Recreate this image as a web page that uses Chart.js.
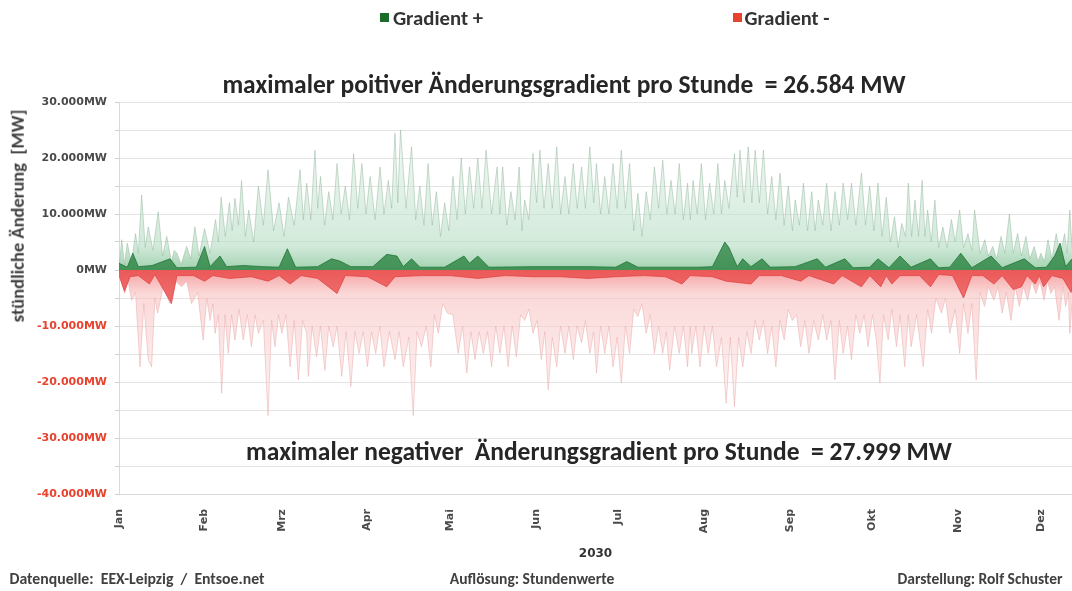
<!DOCTYPE html>
<html><head><meta charset="utf-8">
<script src="https://cdn.jsdelivr.net/npm/chart.js@4/dist/chart.umd.min.js"></script>
<style>
html,body{margin:0;padding:0;background:#fff;}
#wrap{position:relative;width:1072px;height:591px;overflow:hidden;font-family:Carlito,Lato,"Open Sans",sans-serif;}
canvas{position:absolute;left:0;top:0;}
.t{position:absolute;white-space:pre;font-weight:bold;color:#3a3a3a;line-height:1;transform:translate(-50%,-50%);}
.sq{position:absolute;width:9px;height:9px;}
</style></head>
<body><div id="wrap">
<canvas id="c" width="1072" height="591"></canvas>
<div class="sq" style="left:380px;top:13px;background:#1b6b2b"></div>
<div class="t" id="lg1" style="left:438px;top:18px;font-size:13px;color:#333">Gradient +</div>
<div class="sq" style="left:733px;top:13px;background:#e8432e"></div>
<div class="t" id="lg2" style="left:787px;top:18px;font-size:13px;color:#333">Gradient -</div>
<div class="t" id="t1" style="left:564px;top:85px;font-size:20px;color:#262626">maximaler poitiver Änderungsgradient pro Stunde  = 26.584 MW</div>
<div class="t" id="t2" style="left:599px;top:452px;font-size:20px;color:#262626">maximaler negativer  Änderungsgradient pro Stunde  = 27.999 MW</div>
<div class="t" id="yt" style="left:18px;top:216px;font-size:14px;color:#404040;transform:translate(-50%,-50%) rotate(-90deg)">stündliche Änderung  [MW]</div>
<div class="t" id="f1" style="left:137px;top:579px;font-size:11px;color:#404040">Datenquelle:  EEX-Leipzig  /  Entsoe.net</div>
<div class="t" id="f2" style="left:532px;top:579px;font-size:11px;color:#404040">Auflösung: Stundenwerte</div>
<div class="t" id="f3" style="left:980px;top:579px;font-size:11px;color:#404040">Darstellung: Rolf Schuster</div>
</div>
<script>
// ---- data (values in 1.000 MW, x = day of year 2030, 0 = 1 Jan) ----
const monthNames = ["Jan","Feb","Mrz","Apr","Mai","Jun","Jul","Aug","Sep","Okt","Nov","Dez"];
const monthStartDays = [0,31,59,90,120,151,181,212,243,273,304,334];
const yTicksLabelled = [30,20,10,0,-10,-20,-30,-40];

const posPeakDays = [0,1,2,3,4.5,6,7,8.2,9.5,10.6,12.3,14.2,15.8,17.3,19,20,21,22.5,24.5,26,27.5,29,31,33,35,36,37,38.5,40,41,42,43.3,44.4,45.8,47,48.8,50.5,52.3,54,56,58,59.8,61.4,63.5,65.6,66.8,68,69.5,71,72,73,74.5,76,77.5,79,80.5,82,83.5,85,86.5,88,89.5,91,92.8,94.6,96,97.6,98.8,100,101,102,104,106,107.5,109,110.5,112,113.5,115,116.5,118,119.5,121,122.5,124,125.5,127,128.5,130,131.5,133,135,137,138,139,140.5,142,143.5,145,146,147,148.5,150,151.3,152.5,154,155.5,157,158.6,160,161.6,163,164.6,166,167.6,169,170.6,172,173,174.5,176,177.5,179,180.5,182,183.5,185,186.5,188,189.5,191,192.5,194,195.5,197,198.5,200,201.5,203,204.5,206,207,208,209.5,211,212.5,214,215.5,217,218.3,219.5,221,223,224,225,226.5,228,229.3,230.5,232,233.5,235,236.5,238,239.5,241,242.5,244,245,246.5,248,249.5,251,252.2,253.4,255,256.4,258,259.4,261,262.4,264,265.4,267,269,270.5,272,273.5,275,276.5,278,279.5,281,282.3,283.6,285,286,287.2,288.4,289.7,291,292,293,294.3,295.6,297,298.5,300,301.6,303,304.6,306,307.6,309,310,312,313.7,315,316.6,318,319.6,321,322.6,324,325.6,327,328.6,330,331.6,333,334,335.3,336.6,338,339.6,341,342.6,343.5,344.5,345.3];
const posPeakVals = [0.5,5.4,1.0,4.8,1.2,6.5,3,13.4,4,7.7,3.5,10.4,2.5,6.0,1.5,3.5,3.0,1.0,4.2,2,7.7,2.5,7.4,3,9,5,13,6,12,7,12.8,8,16,6,10.7,5,15,8,17.9,7,12,6,13,8,17.9,9,15.5,9,21.4,11,16.7,8,14,9,19,10,15,9,20.8,11,19,10,16.7,9,18.4,10,16,11,24.4,12,25,11,22,9,15,8,19,8,14,6,12,7,16.7,9,20,10,18.4,11,20,11,21.4,10,18.4,10,18.4,8,14,9,18.4,7,12.5,9,20.8,12,21.4,11,19,11,22,10,16.7,10,19,11,18.4,11,22,12,19,10,16.7,10,19,11,21.4,11,19,7,13.7,6,14,9,18.4,11,19.6,10,16,10,19,9,15.5,9,16,10,19,9,15.5,10,19,10,16,11,20.8,13,21.4,12,22,12,21.4,12,21.4,10,16.7,9,17.3,8,15,7,12.5,8,15.5,7,14,7,12.5,8,15.5,7,14,8,15.5,9,15.5,8,17.3,8,15,7,15.5,6,13,5,9.5,4,8.3,6,15.5,6,12.5,6,16,6,10.7,5,12.5,4,7.7,4,9,5,10.7,4,6.5,3.5,10.7,3,5.4,2.5,4.2,2,6,3,10,3,6.5,2.5,6,2,4.2,1.5,3,1.5,5.4,2,6.5,2.5,6.5,3,10.7,4];

const negPeakDays = [0,2,3.3,4.6,6,7.6,9,10.6,11.8,13,14,16,18.5,20.5,22.7,24.5,26.3,28.5,30.5,31.8,33,34,34.8,36,37.2,38.4,39.6,40.8,42,43.5,45,46.5,48,49.3,50.5,52.3,54,55.3,56.5,57.8,59,60.5,62,63.5,65,66.5,68,68.6,70,71.6,73,74.6,76,77.6,79,80.7,82.3,84,85.5,87,88.5,90,91.5,93,94.5,96,98,100,101.5,103,105,106.6,108,109.6,111.3,113,114.3,115.7,117.3,119,121,122.9,124.5,126,127.5,129,130.5,132,133.5,135,136.5,138,139.5,141,142.5,144,145.5,147,148.5,150,151.5,153,154.3,155.5,157,158.6,160,161.6,163,164.6,166,167.6,169,170.6,172,173,174.5,176,177.5,179,180.5,182,183.5,185,186.5,188,189.5,191,192.5,194,195.5,197,198.3,199.5,201.3,203,204.5,206,207,207.5,209,210.5,212,213.5,215,216.5,218.3,220,221.5,223,224.5,226,227.5,229,230.5,232,233.5,235,236.5,238,239.5,241,242.5,244,245.5,247,248.5,250,251.7,253.4,255,256.4,258,259.4,261,262.4,264,265.4,267,268.4,270,271.4,273,274.4,275.7,277,278.7,280,281.7,283,284.7,286,287,289,291.4,293,294.4,296,298,299.5,301,303,304.6,306,307.6,309,310.6,312,313.6,315,317,318.5,320,321.5,323.2,324.7,326.2,327.7,329.2,330.7,332.2,333.7,335.2,336.4,337.6,339,340.6,342,343,344,344.5,345.3];
const negPeakVals = [-0.5,-4.2,-2,-5.4,-4,-17.3,-6,-16,-17.3,-5,-7.7,-3,-6,-2,-3,-2,-6,-4,-12.5,-5,-9,-6,-11.3,-8,-22,-8,-14.9,-8,-12.5,-7,-12.5,-8,-13.7,-8,-11.3,-9,-26,-9,-13.7,-8,-11.3,-8,-17.3,-9,-19.6,-9,-11.3,-19,-10,-15.5,-10,-17.9,-10,-13.7,-10,-19,-11,-20.8,-11,-14.9,-11,-17.3,-11,-14.9,-10,-17.3,-11,-16,-11,-17.3,-12,-26,-11,-13.7,-10,-17.3,-8,-11.3,-6,-7.7,-8,-14.9,-10,-18.4,-11,-16,-11,-14.9,-11,-17.3,-10,-14.9,-10,-17.3,-10,-15.5,-8,-9,-7,-11.3,-9,-16,-11,-21.4,-12,-17.3,-10,-14.9,-10,-16,-10,-13,-9,-14.9,-11,-18.4,-10,-14.9,-10,-17.3,-12,-20.2,-10,-14.9,-7,-8.3,-6,-11.3,-8,-14.9,-10,-14.9,-11,-17.9,-10,-14.9,-10,-17.3,-10,-14.9,-10,-17.3,-10,-14.9,-10,-17.3,-12,-23.8,-12,-24.4,-12,-17.3,-11,-14.9,-9,-12.5,-9,-14.9,-10,-17.3,-9,-12.5,-7,-9,-8,-13.7,-9,-14.9,-9,-12.5,-8,-12.5,-9,-19.6,-9,-14.9,-10,-16,-8,-11.3,-8,-13.7,-8,-12.5,-20.2,-8,-12.5,-7,-13.7,-8,-17.3,-8,-13.7,-8,-17.3,-7,-11.3,-5,-7.7,-5,-11.3,-7,-14.9,-6,-11.3,-6,-19.6,-4,-6.5,-3,-5.4,-3,-7.7,-4,-9,-3,-6.5,-3,-5.4,-2,-4.2,-2,-5.4,-2,-4.2,-3,-9,-3,-6.5,-4,-11.3,-6];

const posCoreDays = [0,3,5,7,12,18.5,21,28,31,33,36.6,39,45,52,58,61,64,72,77,80,84,92,97,100.7,103,106,109,118,125,127,130,134,150,170,180,184,188,200,210,215,219.5,221,224,226,229,233,236,245,253,256,263,266,272,275,279,283,287,294,297,301,305,309,316,320,328,332,336,339,341,343,345.3];
const posCoreVals = [1.2,0.5,3,0.6,0.8,2,0.4,0.5,4.2,0.6,2.5,0.6,0.8,0.6,0.5,3.8,0.5,0.6,2,1.6,0.6,0.6,2.8,2.5,0.6,2,0.5,0.5,2.5,1.2,2.5,0.5,0.6,0.6,0.5,1.5,0.5,0.5,0.5,0.6,5,4,0.6,2,0.6,2,0.5,0.6,2,0.5,2,0.4,0.5,2,0.4,2.5,0.5,2,0.4,0.5,3,0.4,2.5,0.4,2,0.4,0.5,2.5,4.8,0.6,2];

const negCoreDays = [0,2,4,7,11,13,19,21,27,31,34,40,48,54,58,62,66,72,79,82,90,97,100,110,120,130,140,150,160,170,180,190,198,204,207,215,220,229,232,240,247,250,259,262,269,272,276,278,280,283,290,294,297,302,306,309,313,317,320,324,327,329,332,333.5,335,338,342,345,345.3];
const negCoreVals = [-1,-3.8,-1.2,-1,-2.5,-0.8,-6,-1,-1,-2,-1,-1.5,-1.2,-2,-1,-2.5,-1,-1.5,-4.2,-1,-1.2,-3,-1.2,-1,-1,-1.5,-1,-1.2,-1.2,-1.5,-1.2,-1,-1.2,-2.5,-1,-1.2,-2,-2.5,-1,-1,-2,-1,-2.5,-1,-3,-1,-3,-1,-2.5,-1,-1,-3,-0.8,-1,-5,-1,-1,-2.5,-1,-3.5,-3,-1,-2.5,-1,-3,-1,-1.5,-4,-3];

const xMax = 345.3;
const yMin = -40, yMax = 30;

// ---- helpers ----
function pts(days, vals){ return days.map((d,i)=>({x:d,y:vals[i]})); }
function grad(stops, top){
  return (ctx)=>{
    const ch = ctx.chart; if(!ch.chartArea) return stops[1];
    const y = ch.scales.y; const p0 = y.getPixelForValue(0), p1 = y.getPixelForValue(top);
    const g = ch.ctx.createLinearGradient(0,p0,0,p1);
    g.addColorStop(0,stops[0]); g.addColorStop(0.2,stops[1]); g.addColorStop(1,stops[2]);
    return g;
  };
}
function fmt(v){ if(v===0) return '0MW'; return (v<0?'-':'')+Math.abs(v)+'.000MW'; }
const tickFont = {family:'"DejaVu Sans", sans-serif', size:11, weight:'bold'};

new Chart(document.getElementById('c'), {
  type:'line',
  data:{ datasets:[
    {label:'Gradient +', data:pts(posPeakDays,posPeakVals), order:3, fill:'origin',
     backgroundColor:grad(['rgba(120,190,140,0.7)','rgba(180,220,194,0.6)','rgba(222,240,228,0.55)'],22),
     borderColor:'rgba(150,185,160,0.65)', borderWidth:0.8},
    {label:'Gradient -', data:pts(negPeakDays,negPeakVals), order:3, fill:'origin',
     backgroundColor:grad(['rgba(242,125,125,0.75)','rgba(248,192,192,0.6)','rgba(252,228,228,0.55)'],-22),
     borderColor:'rgba(235,175,175,0.7)', borderWidth:0.8},
    {label:'Gradient + Kern', data:pts(posCoreDays,posCoreVals), order:1, fill:'origin',
     backgroundColor:'rgba(25,120,50,0.7)', borderColor:'rgba(20,105,40,0.85)', borderWidth:0.8},
    {label:'Gradient - Kern', data:pts(negCoreDays,negCoreVals), order:1, fill:'origin',
     backgroundColor:'rgba(232,60,60,0.7)', borderColor:'rgba(225,55,55,0.85)', borderWidth:0.8}
  ]},
  options:{
    responsive:false, animation:false,
    layout:{padding:{top:102,left:0,right:0,bottom:25}},
    elements:{point:{radius:0}, line:{tension:0}},
    plugins:{legend:{display:false}, title:{display:false}, tooltip:{enabled:false}},
    scales:{
      x:{type:'linear', min:0, max:xMax,
        afterBuildTicks:(s)=>{ s.ticks = monthStartDays.map(v=>({value:v})); },
        afterFit:(s)=>{ s.height = 72; },
        grid:{display:false},
        border:{display:true,color:'#d9d9d9'},
        ticks:{autoSkip:false, maxRotation:90, minRotation:90, padding:7, color:'#4a4a4a', font:tickFont,
          callback:(v)=>{ const i = monthStartDays.indexOf(v); return i>=0?monthNames[i]:''; }},
        title:{display:true, text:'2030', color:'#333', padding:{top:2,bottom:5},
          font:{family:'"DejaVu Sans", sans-serif', size:12, weight:'bold'}}
      },
      y:{min:yMin, max:yMax,
        afterBuildTicks:(s)=>{ const t=[]; for(let v=yMin; v<=yMax; v+=5) t.push({value:v}); s.ticks=t; },
        afterFit:(s)=>{ s.width = 119; },
        grid:{color:'#e4e4e4', lineWidth:1, tickLength:4, tickColor:'#d0d0d0'},
        border:{display:true,color:'#d9d9d9'},
        ticks:{padding:8,
          color:(c)=> (c.tick && c.tick.value<0) ? '#e8432e' : '#4a4a4a',
          font:tickFont,
          callback:(v)=> yTicksLabelled.includes(v) ? fmt(v) : ''}
      }
    }
  }
});

// fit overlay texts to the widths measured on the reference
function fit(id,w){ const el=document.getElementById(id); const fs=parseFloat(getComputedStyle(el).fontSize); const r=el.offsetWidth; if(r>0) el.style.fontSize=(fs*w/r)+'px'; }
fit('t1',684); fit('t2',706); fit('yt',213); fit('lg1',91); fit('lg2',85);
fit('f1',255); fit('f2',164); fit('f3',165);
</script>
</body></html>
